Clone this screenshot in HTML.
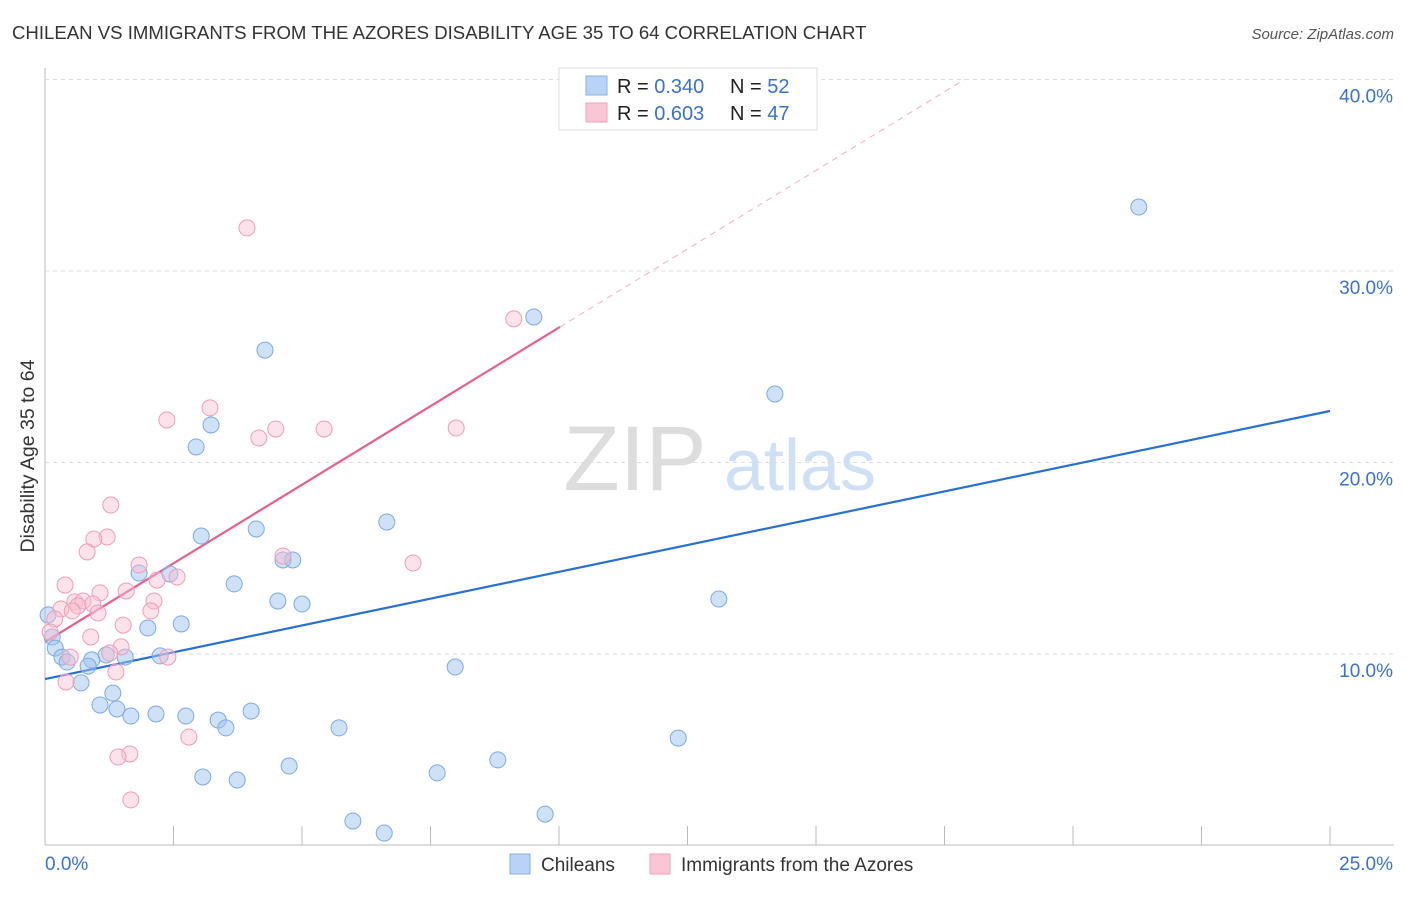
<!DOCTYPE html>
<html><head><meta charset="utf-8"><style>
body{margin:0;background:#fff;font-family:"Liberation Sans",sans-serif}
svg text{font-family:"Liberation Sans",sans-serif}
</style></head><body>
<svg id="chart" width="1406" height="892">
<text x="12" y="39" font-size="18.6" fill="#333">CHILEAN VS IMMIGRANTS FROM THE AZORES DISABILITY AGE 35 TO 64 CORRELATION CHART</text>
<text x="1394" y="39" font-size="15" fill="#555" text-anchor="end" font-style="italic">Source: ZipAtlas.com</text>
<text x="34" y="456" font-size="19.5" fill="#333" text-anchor="middle" transform="rotate(-90 34 456)">Disability Age 35 to 64</text>
<g><text x="635" y="490" font-size="92" fill="#ddd" font-family="Liberation Serif" text-anchor="middle">ZIP</text><text x="800" y="490" font-size="72" fill="#cfe0f5" text-anchor="middle">atlas</text></g>
<g id="grid"></g><g id="lines"></g><g id="pts"></g>
<g>
<rect x="559" y="68" width="258" height="62" fill="#fff" stroke="#ddd"/>
<rect x="586" y="76" width="21" height="19" fill="#b8d3f5" stroke="#88b0e6"/>
<rect x="586" y="103" width="21" height="19" fill="#f9c6d6" stroke="#eea0b8"/>
<text x="617" y="93" font-size="20" fill="#222">R = <tspan fill="#3a72d0">0.340</tspan></text>
<text x="730" y="93" font-size="20" fill="#222">N = <tspan fill="#3a72d0">52</tspan></text>
<text x="617" y="120" font-size="20" fill="#222">R = <tspan fill="#3a72d0">0.603</tspan></text>
<text x="730" y="120" font-size="20" fill="#222">N = <tspan fill="#3a72d0">47</tspan></text>
</g>
<g>
<rect x="510" y="854" width="20" height="20" fill="#b8d3f5" stroke="#88b0e6"/>
<text x="541" y="871" font-size="19" fill="#333">Chileans</text>
<rect x="650" y="854" width="20" height="20" fill="#f9c6d6" stroke="#eea0b8"/>
<text x="681" y="871" font-size="19" fill="#333">Immigrants from the Azores</text>
</g>
</svg>
<script>
const xTicks=[0,2.5,5,7.5,10,12.5,15,17.5,20,22.5,25];
const yTicks=[10,20,30,40];
const blueX=[21.28,9.51,4.28,14.2,3.23,2.94,6.65,4.11,3.04,4.63,4.82,1.83,2.43,3.68,4.53,5.0,13.11,2.0,2.65,0.06,0.14,0.2,2.24,1.56,1.19,0.91,0.33,0.43,0.84,7.98,0.7,1.32,1.07,1.4,1.67,2.16,2.74,3.37,4.01,3.52,5.72,12.32,4.75,8.81,7.63,3.07,3.74,5.99,6.6,9.73];
const blueY=[33.34,27.6,25.87,23.58,21.96,20.81,16.89,16.53,16.16,14.91,14.91,14.23,14.18,13.66,12.77,12.61,12.87,11.36,11.57,12.04,10.89,10.31,9.9,9.84,9.95,9.69,9.84,9.58,9.37,9.32,8.49,7.96,7.34,7.13,6.76,6.87,6.76,6.55,7.02,6.14,6.14,5.61,4.15,4.47,3.79,3.58,3.42,1.28,0.65,1.64];
const pinkX=[3.93,9.12,3.21,2.37,4.49,5.43,8.0,4.16,1.28,1.21,0.95,0.82,4.63,7.16,1.83,2.57,2.18,0.39,1.07,1.58,2.12,0.58,0.74,0.93,0.64,0.31,0.53,1.03,2.06,0.19,1.52,0.1,0.89,1.48,1.26,2.39,0.49,1.38,0.41,2.8,1.65,1.42,1.67];
const pinkY=[32.25,27.5,22.85,22.22,21.75,21.75,21.8,21.28,17.78,16.11,16.0,15.33,15.12,14.75,14.65,14.02,13.86,13.6,13.19,13.29,12.77,12.72,12.77,12.61,12.51,12.35,12.25,12.14,12.25,11.83,11.51,11.15,10.89,10.37,10.05,9.84,9.84,9.06,8.54,5.66,4.78,4.62,2.38];
const blueTrend=[8.69,22.69];
const pinkTrend=[10.63,27.08];
const pinkTrendX=10.02;
const X=v=>45+v*51.4, Y=v=>845.5-v*19.15;
const NS='http://www.w3.org/2000/svg';
function mk(t,a,p){const e=document.createElementNS(NS,t);for(const k in a)e.setAttribute(k,a[k]);p.appendChild(e);return e;}
const g=document.getElementById('grid'),L=document.getElementById('lines'),P=document.getElementById('pts');
mk('line',{x1:45,y1:845,x2:1394,y2:845,stroke:'#bbb'},g);
mk('line',{x1:45,y1:68,x2:45,y2:845,stroke:'#bbb'},g);
xTicks.forEach(t=>{const l=mk('line',{x1:X(t),y1:826,x2:X(t),y2:845,stroke:'#bbb'},g);

});
yTicks.forEach(t=>{const l=mk('line',{x1:45,y1:Y(t),x2:1394,y2:Y(t),stroke:'#ddd','stroke-dasharray':'4 4'},g);


const tx=mk('text',{x:1393,y:Y(t)+23,'font-size':19,fill:'#3a72d0','text-anchor':'end'},g);tx.textContent=t.toFixed(1)+'%';

});
const x0=mk('text',{x:45,y:870,'font-size':19,fill:'#3a72d0'},g);x0.textContent='0.0%';


const x1=mk('text',{x:1393,y:870,'font-size':19,fill:'#3a72d0','text-anchor':'end'},g);x1.textContent='25.0%';


const ps=(pinkTrend[1]-pinkTrend[0])/pinkTrendX;
const bl=mk('line',{x1:X(0),y1:Y(blueTrend[0]),x2:X(25),y2:Y(blueTrend[1]),stroke:'#2a6fd6','stroke-width':2.2},L);


const xd=(40-pinkTrend[0])/ps;
const pl=mk('line',{x1:X(0),y1:Y(pinkTrend[0]),x2:X(pinkTrendX),y2:Y(pinkTrend[1]),stroke:'#e8608a','stroke-width':2.2},L);


const pd=mk('line',{x1:X(pinkTrendX),y1:Y(pinkTrend[1]),x2:X(xd),y2:Y(40),stroke:'#f0b0c4','stroke-width':1,'stroke-dasharray':'6 5'},L);


blueX.forEach((v,i)=>{const c=mk('circle',{cx:X(v),cy:Y(blueY[i]),r:8,fill:'rgba(160,196,240,0.5)',stroke:'#7fa9e3','stroke-width':1},P);

});
pinkX.forEach((v,i)=>{const c=mk('circle',{cx:X(v),cy:Y(pinkY[i]),r:8,fill:'rgba(248,190,208,0.45)',stroke:'#ef9db7','stroke-width':1},P);

});
</script>
</body></html>
